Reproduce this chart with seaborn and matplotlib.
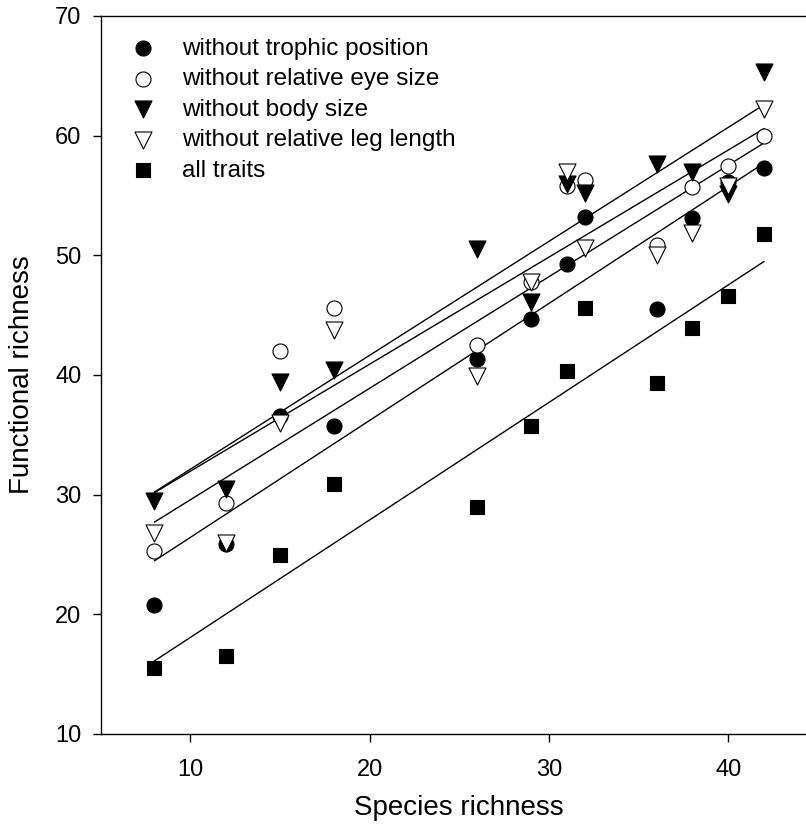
"""
Functional richness vs species richness, one series per trait set.
"""

import matplotlib
matplotlib.use('Agg')
import matplotlib.pyplot as plt
import numpy as np
import pandas as pd
import seaborn as sns

# data
species_richness = [8, 12, 15, 18, 26, 29, 31, 32, 36, 38, 40, 42]
no_trophic = [20.8, 25.9, 36.6, 35.7, 41.3, 44.7, 49.3, 53.2, 45.5, 53.1, 56.1, 57.3]
no_eye = [25.3, 29.3, 42.0, 45.6, 42.5, 47.8, 55.8, 56.3, 50.9, 55.7, 57.5, 60.0]
no_body = [29.5, 30.5, 39.4, 40.4, 50.5, 46.1, 56.0, 55.2, 57.6, 57.0, 55.1, 65.3]
no_leg = [26.8, 26.0, 36.0, 43.8, 39.9, 47.8, 57.0, 50.6, 50.0, 51.9, 55.8, 62.2]
all_traits = [15.5, 16.5, 25.0, 30.9, 29.0, 35.7, 40.3, 45.6, 39.3, 43.9, 46.6, 51.8]

labels = ['without trophic position', 'without relative eye size',
          'without body size', 'without relative leg length', 'all traits']
series = [no_trophic, no_eye, no_body, no_leg, all_traits]

x_ticks = [10, 20, 30, 40]
y_ticks = [10, 20, 30, 40, 50, 60, 70]

# marker style per series: (marker, face, size in pt^2)
styles = [('o', 'black', 117), ('o', 'white', 117), ('v', 'black', 150),
          ('v', 'white', 150), ('s', 'black', 95)]

sns.set_style('ticks')
plt.rcParams['font.family'] = ['Liberation Sans', 'DejaVu Sans']
plt.rcParams['text.color'] = 'black'
plt.rcParams['axes.labelcolor'] = 'black'
plt.rcParams['xtick.color'] = 'black'
plt.rcParams['ytick.color'] = 'black'

fig = plt.figure(figsize=(8.06, 8.32), dpi=100)
W, H = 806, 832
left, bottom, top = 100.7, 734.0, 16.0
x_lo, x_hi = 5, 45
px_per_unit = 17.93
right = left + (x_hi - x_lo) * px_per_unit
ax = fig.add_axes([left / W, 1 - bottom / H, (right - left) / W, (bottom - top) / H])

df = pd.DataFrame({'species': species_richness})
for lab, vals in zip(labels, series):
    df[lab] = vals

# regression lines first, points on top
for lab in labels:
    sns.regplot(data=df, x='species', y=lab, scatter=False, ci=None, ax=ax,
                color='black', line_kws={'lw': 1.0})

for lab, (m, face, s) in zip(labels, styles):
    sns.scatterplot(data=df, x='species', y=lab, marker=m, s=s, color=face,
                    edgecolor='black', linewidth=0.8, label=lab, ax=ax, zorder=3)

ax.set_xlim(x_lo, x_hi)
ax.set_ylim(10, 70)
ax.set_xticks(x_ticks)
ax.set_yticks(y_ticks)
ax.tick_params(axis='both', labelsize=17, length=6, width=1, color='black')
ax.tick_params(axis='x', pad=12)
ax.tick_params(axis='y', pad=8)
for sp in ax.spines.values():
    sp.set_linewidth(1.0)
    sp.set_color('black')

ax.set_xlabel('Species richness', fontsize=20, labelpad=10)
ax.set_ylabel('Functional richness', fontsize=20, labelpad=14)

leg = ax.legend(loc='upper left', bbox_to_anchor=(130.5 / W, 1 - 37.5 / H),
                bbox_transform=fig.transFigure, frameon=False, fontsize=17.5,
                handlelength=1.0, handletextpad=1.12, labelspacing=0.35,
                borderpad=0, borderaxespad=0)

fig.savefig('out.png', dpi=100, facecolor='white')
